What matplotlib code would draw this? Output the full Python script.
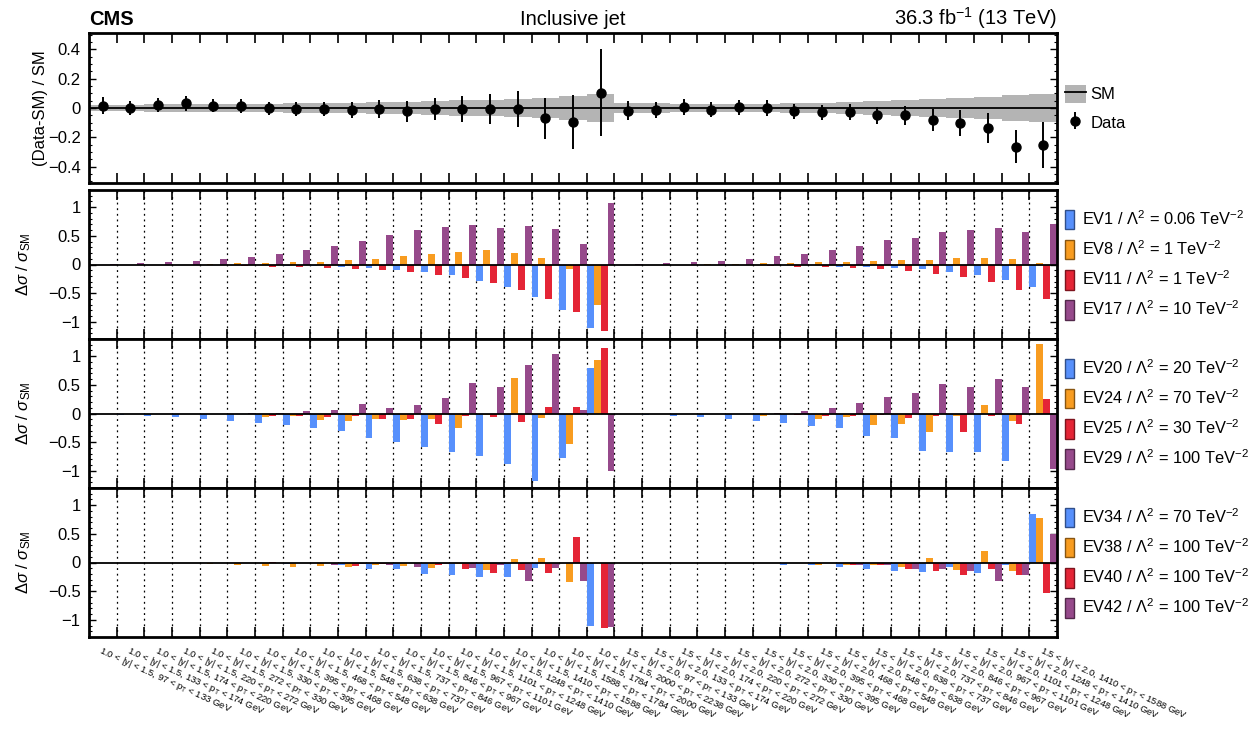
import numpy as np
import matplotlib.pyplot as plt
from matplotlib.ticker import MultipleLocator, FuncFormatter
from matplotlib.patches import Patch
from matplotlib.lines import Line2D
import matplotlib.colors as mcolors

plt.rcParams['font.family'] = ['Liberation Sans', 'DejaVu Sans']
plt.rcParams['mathtext.fontset'] = 'custom'
plt.rcParams['mathtext.rm'] = 'Liberation Sans'
plt.rcParams['mathtext.it'] = 'Liberation Sans:italic'
plt.rcParams['mathtext.bf'] = 'Liberation Sans:bold'

# Bins: |y| range and pT edges
pt_edges_y1 = [97, 133, 174, 220, 272, 330, 395, 468, 548, 638, 737, 846,
               967, 1101, 1248, 1410, 1588, 1784, 2000, 2238]
pt_edges_y2 = [97, 133, 174, 220, 272, 330, 395, 468, 548, 638, 737, 846,
               967, 1101, 1248, 1410, 1588]

# (Data-SM)/SM and uncertainties
data_ratio = [0.016, 0.0, 0.02, 0.032, 0.016, 0.014, -0.002, -0.007, -0.007, -0.014,
              -0.007, -0.023, -0.007, -0.007, -0.007, -0.007, -0.069, -0.098, 0.103,
              -0.018, -0.011, 0.007, -0.011, 0.005, 0.0, -0.023, -0.03, -0.03, -0.05,
              -0.05, -0.08, -0.10, -0.137, -0.263, -0.251]
data_err = [0.057, 0.05, 0.05, 0.05, 0.045, 0.045, 0.045, 0.05, 0.05, 0.055,
            0.06, 0.07, 0.075, 0.09, 0.105, 0.125, 0.14, 0.185, 0.297,
            0.063, 0.054, 0.055, 0.05, 0.053, 0.055, 0.05, 0.05, 0.055, 0.06,
            0.065, 0.075, 0.088, 0.10, 0.11, 0.158]
sm_unc = [0.022, 0.023, 0.024, 0.025, 0.026, 0.027, 0.029, 0.031, 0.034, 0.037,
          0.040, 0.043, 0.047, 0.052, 0.058, 0.064, 0.071, 0.080, 0.095,
          0.033, 0.031, 0.030, 0.030, 0.030, 0.030, 0.031, 0.035, 0.041, 0.047,
          0.054, 0.061, 0.069, 0.077, 0.086, 0.096]

# Delta sigma / sigma_SM for each eigenvector
ev1 = [0, 0, 0, 0, 0, -0.005, -0.01, -0.02, -0.03, -0.05, -0.065, -0.09, -0.13, -0.19,
       -0.28, -0.40, -0.565, -0.80, -1.10, 0, 0, 0, 0, -0.005, -0.005, -0.005, -0.01,
       -0.035, -0.035, -0.06, -0.08, -0.13, -0.19, -0.27, -0.39]
ev8 = [0, 0, 0, 0, 0.005, 0.02, 0.025, 0.035, 0.05, 0.07, 0.10, 0.145, 0.19, 0.215,
       0.245, 0.20, 0.11, -0.07, -0.705, 0, 0, 0, 0.005, 0.01, 0.02, 0.025, 0.035,
       0.04, 0.06, 0.075, 0.08, 0.11, 0.11, 0.095, 0.02]
ev11 = [0, -0.005, -0.005, -0.005, -0.01, -0.03, -0.035, -0.045, -0.06, -0.075, -0.10,
        -0.13, -0.175, -0.24, -0.32, -0.44, -0.61, -0.83, -1.16, 0, 0, -0.005, -0.005,
        -0.01, -0.02, -0.035, -0.04, -0.06, -0.08, -0.11, -0.16, -0.22, -0.30, -0.44, -0.60]
ev17 = [0.01, 0.03, 0.04, 0.06, 0.09, 0.13, 0.18, 0.245, 0.32, 0.41, 0.51, 0.60, 0.66,
        0.69, 0.64, 0.68, 0.62, 0.36, 1.07, 0.005, 0.02, 0.04, 0.06, 0.10, 0.145, 0.19,
        0.25, 0.33, 0.43, 0.47, 0.57, 0.60, 0.64, 0.57, 0.70]

ev20 = [-0.01, -0.03, -0.045, -0.065, -0.09, -0.13, -0.16, -0.20, -0.26, -0.30, -0.42,
        -0.49, -0.59, -0.675, -0.74, -0.88, -1.18, -0.77, 0.80, -0.01, -0.03, -0.04,
        -0.06, -0.09, -0.13, -0.16, -0.22, -0.255, -0.39, -0.43, -0.65, -0.665, -0.665,
        -0.83, 0.0]
ev24 = [0, 0, 0, -0.01, -0.01, -0.01, -0.06, -0.05, -0.115, -0.13, -0.09, -0.105, -0.10,
        -0.25, -0.03, 0.615, -0.075, -0.53, 0.935, 0, 0, 0, 0, -0.01, -0.035, -0.01,
        -0.09, -0.06, -0.20, -0.18, -0.32, -0.045, 0.155, -0.13, 1.21]
ev25 = [0, 0, 0, 0, 0, -0.005, -0.035, -0.05, -0.06, -0.035, -0.09, -0.09, -0.19,
        -0.045, -0.06, -0.155, 0.12, 0.12, 1.14, 0, 0, 0, 0, 0, -0.01, -0.03, -0.045,
        -0.045, -0.025, -0.07, -0.045, -0.32, -0.045, -0.18, 0.255]
ev29 = [0, 0, 0, 0, 0, 0.005, 0.015, 0.035, 0.06, 0.16, 0.09, 0.15, 0.27, 0.54, 0.465,
        0.84, 1.035, 0.06, -1.005, 0, 0, 0, 0, 0, 0.01, 0.04, 0.10, 0.185, 0.28, 0.35,
        0.52, 0.46, 0.60, 0.47, -0.97]

ev34 = [0, 0, 0, 0, 0, -0.005, -0.01, -0.03, -0.005, -0.045, -0.11, -0.11, -0.20, -0.21,
        -0.255, -0.255, -0.095, -0.01, -1.11, 0, 0, 0, 0, 0, -0.005, -0.045, -0.05,
        -0.07, -0.11, -0.15, -0.17, -0.085, -0.175, -0.05, 0.845]
ev38 = [0, 0, -0.005, -0.01, -0.025, -0.04, -0.055, -0.07, -0.06, -0.085, -0.04, -0.06,
        -0.09, -0.03, -0.13, 0.06, 0.07, -0.345, 0, 0, 0, -0.005, -0.01, -0.01, -0.01,
        -0.015, -0.035, -0.045, -0.035, -0.085, 0.07, -0.125, 0.20, -0.14, 0.78]
ev40 = [0, 0, 0, 0, 0, 0, 0.005, -0.005, -0.01, -0.06, -0.03, -0.015, -0.045, -0.12,
        -0.175, -0.135, -0.185, 0.45, -1.14, 0, 0, 0, 0, 0, 0, -0.005, -0.005, -0.045,
        -0.04, -0.11, -0.155, -0.225, -0.105, -0.22, -0.54]
ev42 = [0, 0, 0, 0, 0, 0, -0.01, -0.005, -0.04, -0.02, -0.035, -0.07, -0.02, -0.10,
        -0.04, -0.325, -0.095, -0.33, -1.12, 0, 0, 0, 0, 0, 0, 0, -0.01, -0.045, -0.05,
        -0.12, -0.115, -0.14, -0.33, -0.215, 0.50]

panels = [
    ([ev1, ev8, ev11, ev17], ['EV1', 'EV8', 'EV11', 'EV17'], ['0.06', '1', '1', '10']),
    ([ev20, ev24, ev25, ev29], ['EV20', 'EV24', 'EV25', 'EV29'], ['20', '70', '30', '100']),
    ([ev34, ev38, ev40, ev42], ['EV34', 'EV38', 'EV40', 'EV42'], ['70', '100', '100', '100']),
]
colors = ['#5790fc', '#f89c20', '#e42536', '#964a8b']

# Bin labels
bin_labels = []
for lo, hi in zip(pt_edges_y1[:-1], pt_edges_y1[1:]):
    bin_labels.append(r'1.0 < |y| < 1.5, %d < p$_\mathregular{T}$ < %d GeV' % (lo, hi))
for lo, hi in zip(pt_edges_y2[:-1], pt_edges_y2[1:]):
    bin_labels.append(r'1.5 < |y| < 2.0, %d < p$_\mathregular{T}$ < %d GeV' % (lo, hi))
nbins = len(bin_labels)
x = np.arange(nbins)
edges = np.arange(nbins + 1) - 0.5


def fmt(v, pos):
    v = round(v, 6)
    if abs(v) < 1e-9:
        return '0'
    return ('%g' % v).replace('-', '\u2212')


def style_axis(ax, major, minor, label_x):
    ax.set_xlim(-0.5, nbins - 0.5)
    ax.set_xticks(edges[1:-1])
    ax.set_xticklabels([])
    ax.yaxis.set_major_locator(MultipleLocator(major))
    ax.yaxis.set_minor_locator(MultipleLocator(minor))
    ax.yaxis.set_major_formatter(FuncFormatter(fmt))
    ax.tick_params(which='both', direction='in', top=True, right=True, labelsize=12)
    ax.tick_params(axis='x', which='major', length=7.5, width=1.2)
    ax.tick_params(axis='y', which='major', length=5, width=1.0, pad=6)
    ax.tick_params(axis='y', which='minor', length=2.5, width=0.8)
    for s in ax.spines.values():
        s.set_linewidth(2.0)
    ax.yaxis.set_label_coords(label_x, 0.5)


fig = plt.figure(figsize=(12.58, 7.47), dpi=100)
L, W = 89 / 1258, 968 / 1258
ax0 = fig.add_axes([L, 1 - 182.7 / 747, W, 149.4 / 747])
axes = [fig.add_axes([L, 1 - b / 747, W, 149 / 747]) for b in (339, 488, 637)]

# Top panel: data vs SM
band = ax0.fill_between(edges, -np.append(sm_unc, sm_unc[-1]), np.append(sm_unc, sm_unc[-1]),
                        step='post', color='#b4b4b4', linewidth=0, zorder=1)
ax0.axhline(0, color='black', lw=1.3, zorder=2)
eb = ax0.errorbar(x, data_ratio, yerr=data_err, fmt='o', color='black', ms=6.5,
                  elinewidth=1.4, capsize=0, zorder=3)
ax0.set_ylim(-0.51, 0.51)
style_axis(ax0, 0.2, 0.05, -0.042)
ax0.set_ylabel('(Data-SM) / SM', fontsize=12)
sm_handle = (Patch(facecolor='#b4b4b4', linewidth=0), Line2D([], [], color='black', lw=1.3))
ax0.legend([sm_handle, eb], ['SM', 'Data'], loc='center left', bbox_to_anchor=(1.008, 0.5),
           frameon=False, fontsize=12, handlelength=1.25, handleheight=1.25,
           handletextpad=0.3, labelspacing=0.65, borderaxespad=0, borderpad=0)
ax0.text(0, 1.054, 'CMS', transform=ax0.transAxes, fontsize=14.5, fontweight='bold',
         va='baseline', ha='left')
ax0.text(0.5, 1.054, 'Inclusive jet', transform=ax0.transAxes, fontsize=14.5,
         va='baseline', ha='center')
ax0.text(1.0, 1.054, r'36.3 fb$^\mathregular{-1}$ (13 TeV)', transform=ax0.transAxes,
         fontsize=14.5, va='baseline', ha='right')

# Eigenvector panels
offsets = [-0.375, -0.125, 0.125, 0.375]
for ax, (series, names, lams) in zip(axes, panels):
    handles = []
    labels = []
    for vals, off, c, name, lam in zip(series, offsets, colors, names, lams):
        ax.bar(x + off, vals, width=0.25, color=c, linewidth=0, zorder=2)
        dark = np.array(mcolors.to_rgb(c)) * 0.55
        handles.append(Patch(facecolor=c, edgecolor=dark, linewidth=1.0))
        labels.append(r'%s / $\Lambda^\mathregular{2}$ = %s TeV$^\mathregular{-2}$' % (name, lam))
    for e in edges[1:-1]:
        ax.axvline(e, color='black', ls=(0, (1.5, 3)), lw=0.9, zorder=1)
    ax.axhline(0, color='black', lw=1.3, zorder=3)
    ax.set_ylim(-1.3, 1.3)
    style_axis(ax, 0.5, 0.1, -0.058)
    ax.set_ylabel(r'$\Delta\sigma$ / $\sigma_\mathregular{SM}$', fontsize=12)
    ax.legend(handles, labels, loc='center left', bbox_to_anchor=(1.008, 0.5),
              frameon=False, fontsize=11.8, handlelength=0.55, handleheight=1.45,
              handletextpad=0.5, labelspacing=0.62, borderaxespad=0, borderpad=0)

# Rotated bin labels under the last panel
for xi, lab in zip(x, bin_labels):
    axes[-1].text(xi, -0.045, lab, transform=axes[-1].get_xaxis_transform(), fontsize=6.8,
                  rotation=-24.5, rotation_mode='anchor', ha='left', va='top')

fig.savefig('out.png', dpi=100)
